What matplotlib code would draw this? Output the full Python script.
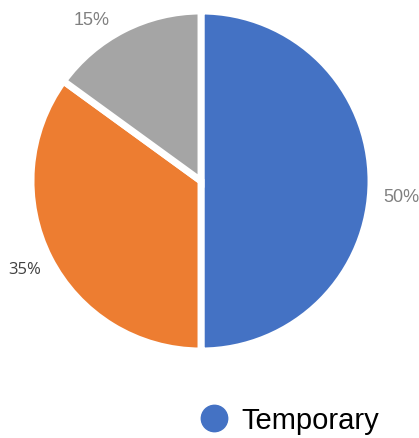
import matplotlib.pyplot as plt
from matplotlib.lines import Line2D

# data
labels = ['Temporary', 'Permanent', 'Other']
shares = [50, 35, 15]
colors = ['#4472C4', '#ED7D31', '#A5A5A5']
legend_labels = ['Temporary']

W, H = 419, 439
fig = plt.figure(figsize=(W / 100, H / 100), dpi=100)
ax = fig.add_axes([0, 0, 1, 1])

cx, cy = 201, H - 182
wedges, texts = ax.pie(shares, colors=colors, startangle=90, counterclock=False,
                       center=(cx, cy), radius=170,
                       labels=[f'{v}%' for v in shares], labeldistance=1.18,
                       wedgeprops=dict(edgecolor='white', linewidth=5))

for t in texts:
    t.set_fontfamily('Liberation Sans')
    t.set_fontsize(13)
    t.set_color('#808080')
    t.set_ha('center')
    t.set_va('center')
# the 35% label is styled differently in the original
texts[1].set_fontfamily('Open Sans')
texts[1].set_fontsize(12)
texts[1].set_color('#404040')
# label offsets from the pie centre
texts[0].set_position((cx + 200, cy - 16))
texts[1].set_position((cx - 176, cy - 88))
texts[2].set_position((cx - 109, cy + 162))

ax.set_xlim(0, W)
ax.set_ylim(0, H)
ax.set_aspect('equal')
ax.axis('off')

handles = [Line2D([], [], marker='o', linestyle='none', markersize=19,
                  markerfacecolor='#4472C4', markeredgecolor='#4472C4')]
leg = fig.legend(handles, legend_labels, loc='center left',
                 bbox_to_anchor=(173 / W, 1 - 421 / H), frameon=False,
                 handlelength=1.0, handletextpad=0.45,
                 prop={'family': 'Liberation Sans', 'size': 21})

fig.savefig('out.png', dpi=100)
